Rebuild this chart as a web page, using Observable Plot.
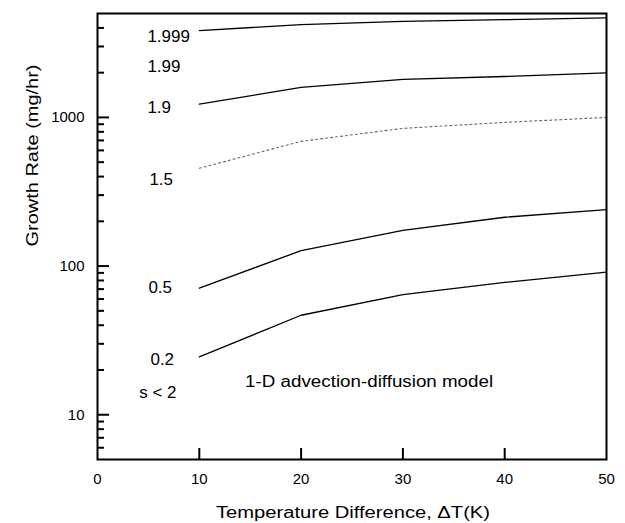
<!DOCTYPE html>
<html><head><meta charset="utf-8">
<script src="https://cdn.jsdelivr.net/npm/d3@7"></script>
<script src="https://cdn.jsdelivr.net/npm/@observablehq/plot@0.6"></script>
<style>
html,body{margin:0;padding:0;background:#fff;}
</style>
</head><body><div id="chart"></div>
<script>
// Data
const deltaT = [10, 20, 30, 40, 50];
const s1999 = [3840, 4210, 4425, 4550, 4670];
const s19   = [1228, 1590, 1800, 1885, 1995];
const s15   = [455, 690, 844, 926, 1000];
const s05   = [71, 127, 174, 213, 240];
const s02   = [24.5, 46.7, 64.3, 77.6, 91];

const xTicks = [0, 10, 20, 30, 40, 50];
const yMajor = [10, 100, 1000];
const yMinor = [6, 7, 8, 9, 20, 30, 40, 50, 60, 70, 80, 90, 200, 300, 400, 500, 600, 700, 800, 900, 2000, 3000, 4000];

// curve labels: text, x (ΔT), y (growth rate)
const labelText = ["1.999", "1.99", "1.9", "1.5", "0.5", "0.2", "s < 2"];
const labelX    = [4.9, 4.9, 4.9, 5.1, 5.0, 5.2, 4.1];
const labelY    = [3500, 2200, 1170, 384, 72, 23.4, 14];
const noteText = "1-D advection-diffusion model";
const noteX = 14.5, noteY = 16.6;

const solid = [["1.999", s1999], ["1.9", s19], ["0.5", s05], ["0.2", s02]]
  .flatMap(([s, v]) => v.map((y, i) => ({s, x: deltaT[i], y})));
const dashed = s15.map((y, i) => ({s: "1.5", x: deltaT[i], y}));
const labels = labelText.map((t, i) => ({t, x: labelX[i], y: labelY[i]}));

const W = 625, H = 523, mL = 97, mR = 19, mT = 13, mB = 64;
const fw = W - mL - mR, fh = H - mT - mB;
const font = "'Liberation Sans', Arial, Helvetica, sans-serif";

const chart = Plot.plot({
  width: W, height: H,
  marginLeft: mL, marginRight: mR, marginTop: mT, marginBottom: mB,
  style: {fontFamily: font, background: "#fff", color: "#000", fontSize: "15px"},
  x: {domain: [0, 50], axis: null},
  y: {type: "log", domain: [5, 5000], axis: null},
  marks: [
    Plot.text(xTicks, {x: d => d, text: d => String(d), frameAnchor: "bottom", dy: 24, lineAnchor: "bottom", fontSize: 15, fill: "#000"}),
    Plot.text(yMajor, {y: d => d, text: d => String(d), frameAnchor: "left", dx: -13, textAnchor: "end", lineAnchor: "middle", fontSize: 15, fill: "#000"}),
    Plot.tickX(xTicks.slice(1, -1), {x: d => d, insetTop: fh - 11, strokeWidth: 2, stroke: "#000"}),
    Plot.tickY(yMajor, {y: d => d, insetRight: fw - 12, strokeWidth: 2, stroke: "#000"}),
    Plot.tickY(yMinor, {y: d => d, insetRight: fw - 7, strokeWidth: 2, stroke: "#000"}),
    Plot.line(solid, {x: "x", y: "y", z: "s", stroke: "#000", strokeWidth: 1.3}),
    Plot.line(dashed, {x: "x", y: "y", stroke: "#666", strokeWidth: 1.1, strokeDasharray: "2,3"}),
    Plot.text(labels, {x: "x", y: "y", text: "t", textAnchor: "start", fontSize: 17, fill: "#000"}),
    Plot.text([noteText], {x: noteX, y: noteY, textAnchor: "start", fontSize: 16, fill: "#000"}),
    Plot.text(["Growth Rate (mg/hr)"], {frameAnchor: "left", rotate: -90, dx: -60, dy: 10, lineAnchor: "bottom", fontSize: 16, fill: "#000"}),
    Plot.text(["Temperature Difference, \u0394T(K)"], {frameAnchor: "bottom", dy: 58, dx: 1, lineAnchor: "bottom", fontSize: 16, fill: "#000"}),
    Plot.frame({stroke: "#000", strokeWidth: 2})
  ]
});

document.getElementById("chart").appendChild(chart);

const stretch = {
  "Growth Rate (mg/hr)": 182,
  "Temperature Difference, \u0394T(K)": 274,
  "1-D advection-diffusion model": 248
};
d3.select(chart).selectAll("text").each(function () {
  const L = stretch[this.textContent];
  if (L) { this.setAttribute("textLength", L); this.setAttribute("lengthAdjust", "spacingAndGlyphs"); }
});
</script>
</body></html>
